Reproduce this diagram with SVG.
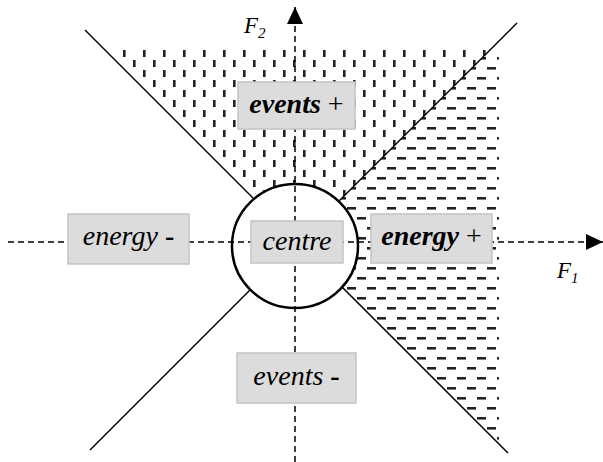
<svg xmlns="http://www.w3.org/2000/svg" width="603" height="462" viewBox="0 0 603 462">
<defs>
<pattern id="vdash" patternUnits="userSpaceOnUse" x="123" y="50" width="20" height="20">
<rect x="0" y="0" width="2.6" height="7" fill="#222"/>
<rect x="10" y="10" width="2.6" height="7" fill="#222"/>
</pattern>
<pattern id="hdash" patternUnits="userSpaceOnUse" x="487" y="67" width="20" height="20">
<rect x="0" y="0" width="9" height="2.6" fill="#222"/>
<rect x="10" y="10" width="9" height="2.6" fill="#222"/>
</pattern>
<marker id="arr" markerWidth="18" markerHeight="18" refX="17" refY="9" orient="auto" markerUnits="userSpaceOnUse">
<path d="M0,1 L17,9 L0,17 Z" fill="#000"/>
</marker>
</defs>
<rect width="603" height="462" fill="#fff"/>
<g id="regions">
<polygon points="105,50 490,50 297.5,242.5" fill="url(#vdash)"/>
<polygon points="490,50 499,50 499,444 297.5,242.5" fill="url(#hdash)"/>
</g>
<g id="connectors" stroke="#000" stroke-width="1.5" fill="none">
<line x1="85" y1="30" x2="297.5" y2="242.5"/>
<line x1="517" y1="23" x2="297.5" y2="242.5"/>
<line x1="508" y1="453" x2="297.5" y2="242.5"/>
<line x1="90" y1="450" x2="297.5" y2="242.5"/>
</g>
<g id="centre-circle">
<ellipse cx="295" cy="246" rx="63" ry="62" fill="#fff" stroke="#000" stroke-width="2.5"/>
</g>
<g id="axes" stroke="#000" stroke-width="1.5" stroke-dasharray="6 4" fill="none">
<line x1="8" y1="242" x2="603" y2="242" marker-end="url(#arr)"/>
<line x1="295" y1="462" x2="295" y2="7" marker-end="url(#arr)"/>
</g>
<g id="axis-labels">
<text x="244" y="33" style="font-family:'Liberation Serif',serif;font-style:italic;font-size:23px">F<tspan style="font-size:15px" dy="5">2</tspan></text>
<text x="557" y="278" style="font-family:'Liberation Serif',serif;font-style:italic;font-size:23px">F<tspan style="font-size:15px" dy="5">1</tspan></text>
</g>
<g id="events-plus">
<rect x="238" y="82" width="117" height="47" fill="#dcdcdc" stroke="#c4c4c4" stroke-width="1.5"/>
<text x="296.5" y="113" text-anchor="middle" style="font-family:'Liberation Serif',serif;font-size:28px"><tspan style="font-weight:bold;font-style:italic">events</tspan> +</text>
</g>
<g id="energy-plus">
<rect x="371" y="214" width="121" height="49" fill="#dcdcdc" stroke="#c4c4c4" stroke-width="1.5"/>
<text x="431.5" y="245" text-anchor="middle" style="font-family:'Liberation Serif',serif;font-size:28px"><tspan style="font-weight:bold;font-style:italic">energy</tspan> +</text>
</g>
<g id="energy-minus">
<rect x="68" y="214" width="121" height="50" fill="#dcdcdc" stroke="#c4c4c4" stroke-width="1.5"/>
<text x="128.5" y="245" text-anchor="middle" style="font-family:'Liberation Serif',serif;font-size:28px"><tspan style="font-style:italic">energy</tspan> <tspan style="font-weight:bold">-</tspan></text>
</g>
<g id="centre">
<rect x="251" y="221" width="92" height="42" fill="#dcdcdc" stroke="#c4c4c4" stroke-width="1.5"/>
<text x="297" y="250" text-anchor="middle" style="font-family:'Liberation Serif',serif;font-size:28px;font-style:italic">centre</text>
</g>
<g id="events-minus">
<rect x="237" y="353" width="119" height="50" fill="#dcdcdc" stroke="#c4c4c4" stroke-width="1.5"/>
<text x="296.5" y="385" text-anchor="middle" style="font-family:'Liberation Serif',serif;font-size:28px"><tspan style="font-style:italic">events</tspan> <tspan style="font-weight:bold">-</tspan></text>
</g>
</svg>
